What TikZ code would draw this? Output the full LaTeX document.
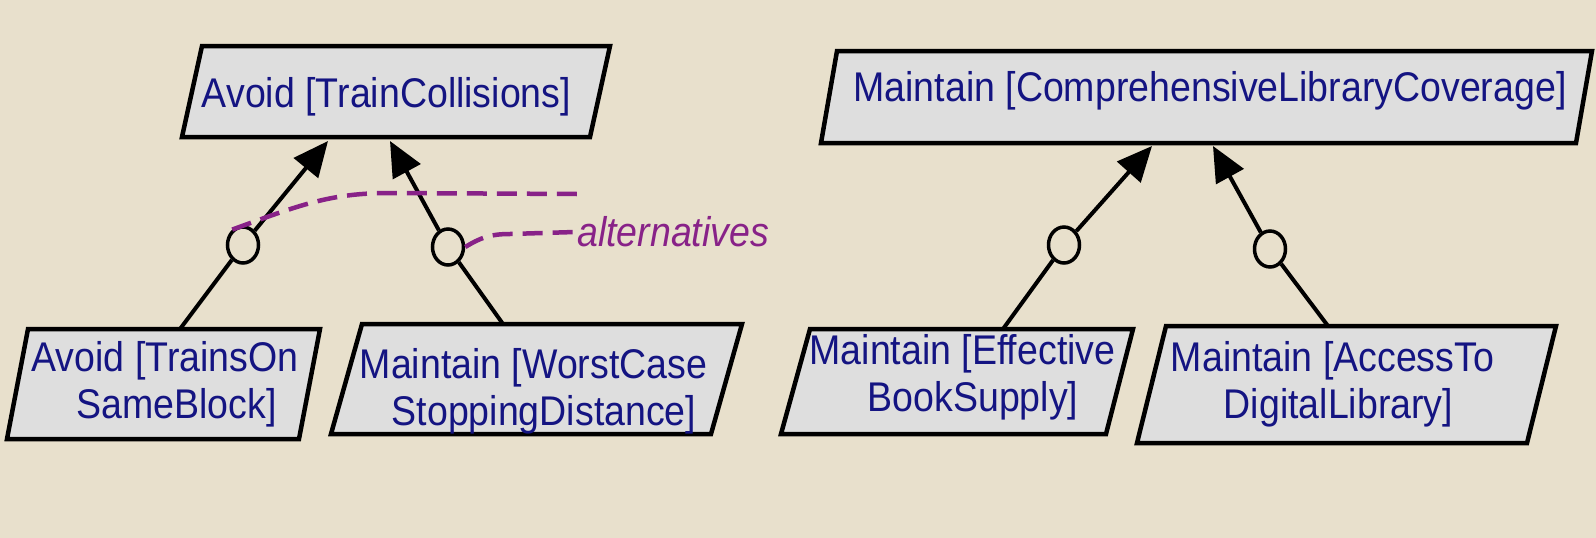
\documentclass[tikz,border=0pt]{standalone}
\usepackage{fontspec}
\setmainfont{Liberation Sans}[FakeStretch=0.904]
\usetikzlibrary{arrows.meta,shapes.geometric}
\definecolor{bg}{RGB}{232,224,204}
\definecolor{boxfill}{RGB}{222,222,222}
\definecolor{navy}{RGB}{20,20,130}
\definecolor{altpurple}{RGB}{136,34,136}
\begin{document}
\begin{tikzpicture}[x=1pt,y=-1pt,
  pgram/.style={draw=black,fill=boxfill,line width=4.5pt,line join=miter},
  goaltext/.style={text=navy,font=\fontsize{41.5}{46.5}\selectfont,align=center,inner sep=0pt},
  refnode/.style={ellipse,draw=black,line width=3.5pt,fill=bg,minimum width=31pt,minimum height=36pt,inner sep=0pt},
  link/.style={line width=4pt,draw=black},
  goalarrow/.style={link,-{Triangle[length=35pt,width=31pt]}},
  altline/.style={draw=altpurple,line width=4.5pt,dash pattern=on 20pt off 10pt},
]
\fill[bg] (0,0) rectangle (1596,538);
\useasboundingbox (0,0) rectangle (1596,538);

% attach points on the goal boxes
\coordinate (a1) at (328,141);
\coordinate (a2) at (390,141);
\coordinate (b1) at (180,329);
\coordinate (cc1) at (503,324);
\coordinate (d1) at (1152,146);
\coordinate (d2) at (1213,146);
\coordinate (e1) at (1003,329);
\coordinate (f1) at (1328,326);
\coordinate (alt1end) at (577,194);

% refinement circles
\node[refnode] (c1) at (243,245) {};
\node[refnode] (c2) at (448,247) {};
\node[refnode] (r1) at (1064,245) {};
\node[refnode] (r2) at (1270,249) {};

% links
\draw[goalarrow] (c1) -- (a1);
\draw[goalarrow] (c2) -- (a2);
\draw[link] (c1) -- (b1);
\draw[link] (c2) -- (cc1);
\draw[goalarrow] (r1) -- (d1);
\draw[goalarrow] (r2) -- (d2);
\draw[link] (r1) -- (e1);
\draw[link] (r2) -- (f1);

% goal boxes
\draw[pgram] (202,46) -- (610,46) -- (590,137) -- (182,137) -- cycle;
\draw[pgram] (28,329) -- (320,329) -- (299,439) -- (7,439) -- cycle;
\draw[pgram] (362,324) -- (742,324) -- (711,434) -- (331,434) -- cycle;
\draw[pgram] (837,51) -- (1592,51) -- (1576,143) -- (821,143) -- cycle;
\draw[pgram] (810,329) -- (1133,329) -- (1106,434) -- (781,434) -- cycle;
\draw[pgram] (1166,326) -- (1556,326) -- (1527,443) -- (1137,443) -- cycle;

% texts
\node[goaltext] (tA) at (386.5,96.3) {Avoid [TrainCollisions]};
\node[goaltext] (tB) at (165,384.5) {Avoid [TrainsOn\\\hspace*{23pt}SameBlock]};
\node[goaltext] (tC) at (533.5,391.5) {Maintain [WorstCase\\\hspace*{21pt}StoppingDistance]};
\node[goaltext] (tD) at (1210,91) {Maintain [ComprehensiveLibraryCoverage]};
\node[goaltext] (tE) at (962.5,377.5) {Maintain [Effective\\\hspace*{21pt}BookSupply]};
\node[goaltext] (tF) at (1332.5,384.5) {Maintain [AccessTo\\\hspace*{12pt}DigitalLibrary]};

% alternatives annotation
\node[text=altpurple,font=\itshape\fontsize{41.5}{46.5}\selectfont,anchor=west,inner sep=2pt] (altlabel) at (575,232) {alternatives};
\draw[altline] (c1.125) .. controls (300,205) and (330,193) .. (390,193) -- (alt1end);
\draw[altline] (c2.east) .. controls (480,238) and (490,234) .. (510,234) -- (altlabel.west);
\end{tikzpicture}
\end{document}
